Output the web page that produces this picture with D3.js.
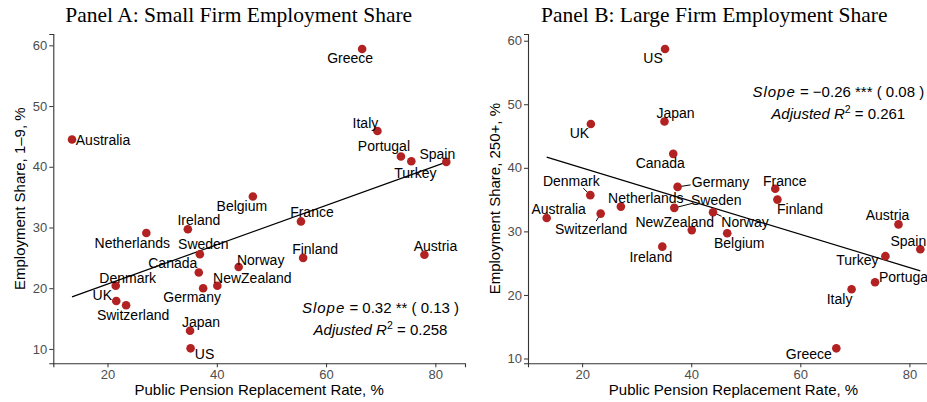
<!DOCTYPE html>
<meta charset="utf-8">
<style>
body { margin: 0; background: #fff; }
text { font-family: "Liberation Sans", Arial, sans-serif; }
.title { font-family: "Liberation Serif", "Times New Roman", serif; font-size: 21.5px; }
.tick text { font-size: 13px; fill: #4d4d4d; }
.tick line { stroke: #333; }
.domain { stroke: #333; stroke-width: 1.1; }
.lab { font-size: 14px; fill: #000; }
.axt { font-size: 15px; fill: #000; }
.ann { font-size: 15px; fill: #000; }
</style>
<body>
<script src="https://d3js.org/d3.v7.min.js"></script>
<script>
var countries = ["Australia","Denmark","UK","Switzerland","Netherlands","Ireland","Japan","US","Canada","Sweden","Germany","NewZealand","Norway","Belgium","France","Finland","Greece","Italy","Portugal","Turkey","Austria","Spain"];
var pension = [13.5,21.5,21.6,23.4,27.1,34.7,35.1,35.2,36.7,36.9,37.5,40.1,44.0,46.6,55.4,55.8,66.6,69.4,73.7,75.6,78.0,82.0];
var smallShare = [44.5,20.4,17.9,17.2,29.1,29.7,13.0,10.1,22.6,25.6,20.0,20.4,23.5,35.1,31.0,25.0,59.4,45.9,41.7,40.9,25.5,40.8];
var largeShare = [32.1,35.7,46.9,32.8,33.9,27.6,47.3,58.7,42.2,33.7,37.0,30.2,33.0,29.7,36.7,35.0,11.6,20.9,22.0,26.1,31.1,27.2];
var yTicks = [10,20,30,40,50,60];
var xTicks = [20,40,60,80];
// fitted lines: [slope, intercept]
var fitA = [0.324, 14.2];
var fitB = [-0.261, 45.2];

// label offsets (px) from each point, ggrepel-ish placement
var offA = {Australia:[31,1],Denmark:[12,-8],UK:[-14,-6],Switzerland:[7,10],Netherlands:[-14,10],Ireland:[11,-9],Japan:[11,-9],US:[14,6],Canada:[-26,-9],Sweden:[3.5,-10],Germany:[-11,9],NewZealand:[35,-8],Norway:[22,-7],Belgium:[-11,9],France:[11,-9],Finland:[12,-9],Greece:[-12,9],Italy:[-12,-8],Portugal:[-17,-10],Turkey:[4,12],Austria:[11,-9],Spain:[-9,-8]};
var offB = {Australia:[12,-9],Denmark:[-19,-14],UK:[-11.5,9],Switzerland:[-9.5,15.6],Netherlands:[25,-9],Ireland:[-11.5,10],Japan:[11,-8],US:[-12,9],Canada:[-13,9],Sweden:[42,-8],Germany:[43,-5],NewZealand:[-17,-8],Norway:[32,10],Belgium:[12,10],France:[9.5,-8],Finland:[22.6,9.5],Greece:[-27.5,6],Italy:[-12,10],Portugal:[30,-5],Turkey:[-28,4],Austria:[-11,-9],Spain:[-12,-8]};
var segB = {Denmark:[-7,-7],Switzerland:[-4.5,7.5],Sweden:[18,-4.5],Germany:[13,-2],Norway:[8.5,4]};

var svg = d3.select("body").append("svg")
    .attr("width", 927)
    .attr("height", 402);

function expand(ext) {
  var pad = (ext[1] - ext[0]) * 0.05;
  return [ext[0] - pad, ext[1] + pad];
}

function panel(opt) {
  var x = d3.scaleLinear().domain(expand(d3.extent(pension))).range([opt.left, opt.right]);
  var y = d3.scaleLinear().domain(expand(d3.extent(opt.values))).range([363.3, 34]);
  var g = svg.append("g");

  g.append("text").attr("class", "title")
      .attr("x", opt.cx).attr("y", 22)
      .attr("text-anchor", "middle")
      .text(opt.title);

  g.append("g").attr("transform", "translate(" + opt.left + ",0)")
      .call(d3.axisLeft(y).tickValues(yTicks).tickSize(4).tickPadding(2));
  g.append("g").attr("transform", "translate(0,363.3)")
      .call(d3.axisBottom(x).tickValues(xTicks).tickSize(4).tickPadding(2));

  g.append("text").attr("class", "axt")
      .attr("x", (opt.left + opt.right) / 2).attr("y", 395)
      .attr("text-anchor", "middle")
      .text("Public Pension Replacement Rate, %");
  g.append("text").attr("class", "axt")
      .attr("transform", "translate(" + opt.ytx + ",198.7) rotate(-90)")
      .attr("text-anchor", "middle")
      .text(opt.ytitle);

  var x0 = d3.min(pension), x1 = d3.max(pension);
  g.append("line")
      .attr("x1", x(x0)).attr("y1", y(opt.fit[0] * x0 + opt.fit[1]))
      .attr("x2", x(x1)).attr("y2", y(opt.fit[0] * x1 + opt.fit[1]))
      .attr("stroke", "#000").attr("stroke-width", 1.2);

  var data = countries.map(function(c, i) { return {name: c, x: pension[i], y: opt.values[i]}; });

  g.selectAll(".seg").data(data.filter(function(d) { return opt.seg[d.name]; }))
    .enter().append("line")
      .attr("x1", function(d) { return x(d.x); })
      .attr("y1", function(d) { return y(d.y); })
      .attr("x2", function(d) { return x(d.x) + opt.seg[d.name][0]; })
      .attr("y2", function(d) { return y(d.y) + opt.seg[d.name][1]; })
      .attr("stroke", "#000").attr("stroke-width", 1);

  g.selectAll(".pt").data(data)
    .enter().append("circle")
      .attr("cx", function(d) { return x(d.x); })
      .attr("cy", function(d) { return y(d.y); })
      .attr("r", 4.3)
      .attr("fill", "#b22222");

  g.selectAll(".lab").data(data)
    .enter().append("text")
      .attr("class", "lab")
      .attr("x", function(d) { return x(d.x) + opt.off[d.name][0]; })
      .attr("y", function(d) { return y(d.y) + opt.off[d.name][1]; })
      .attr("dy", "0.36em")
      .attr("text-anchor", "middle")
      .text(function(d) { return d.name; });

  var t1 = g.append("text").attr("class", "ann")
      .attr("x", opt.ann[0]).attr("y", opt.ann[1])
      .attr("text-anchor", "middle");
  t1.append("tspan").style("font-style", "italic").style("letter-spacing", "1px").text("Slope");
  t1.append("tspan").text(" = " + opt.slope);

  var t2 = g.append("text").attr("class", "ann")
      .attr("x", opt.ann[0]).attr("y", opt.ann[1] + 22)
      .attr("text-anchor", "middle");
  t2.append("tspan").style("font-style", "italic").text("Adjusted R");
  t2.append("tspan").attr("dy", -6).style("font-size", "10.5px").text("2");
  t2.append("tspan").attr("dy", 6).text(" = " + opt.r2);
}

panel({
  left: 53.3, right: 465, cx: 238.7, ytx: 24.5,
  title: "Panel A: Small Firm Employment Share",
  ytitle: "Employment Share, 1\u20139, %",
  values: smallShare, fit: fitA, off: offA, seg: {},
  ann: [380.5, 313], slope: "0.32 ** ( 0.13 )", r2: "0.258"
});

panel({
  left: 528, right: 939, cx: 714.3, ytx: 499.5,
  title: "Panel B: Large Firm Employment Share",
  ytitle: "Employment Share, 250+, %",
  values: largeShare, fit: fitB, off: offB, seg: segB,
  ann: [838.3, 97], slope: "\u22120.26 *** ( 0.08 )", r2: "0.261"
});
</script>
